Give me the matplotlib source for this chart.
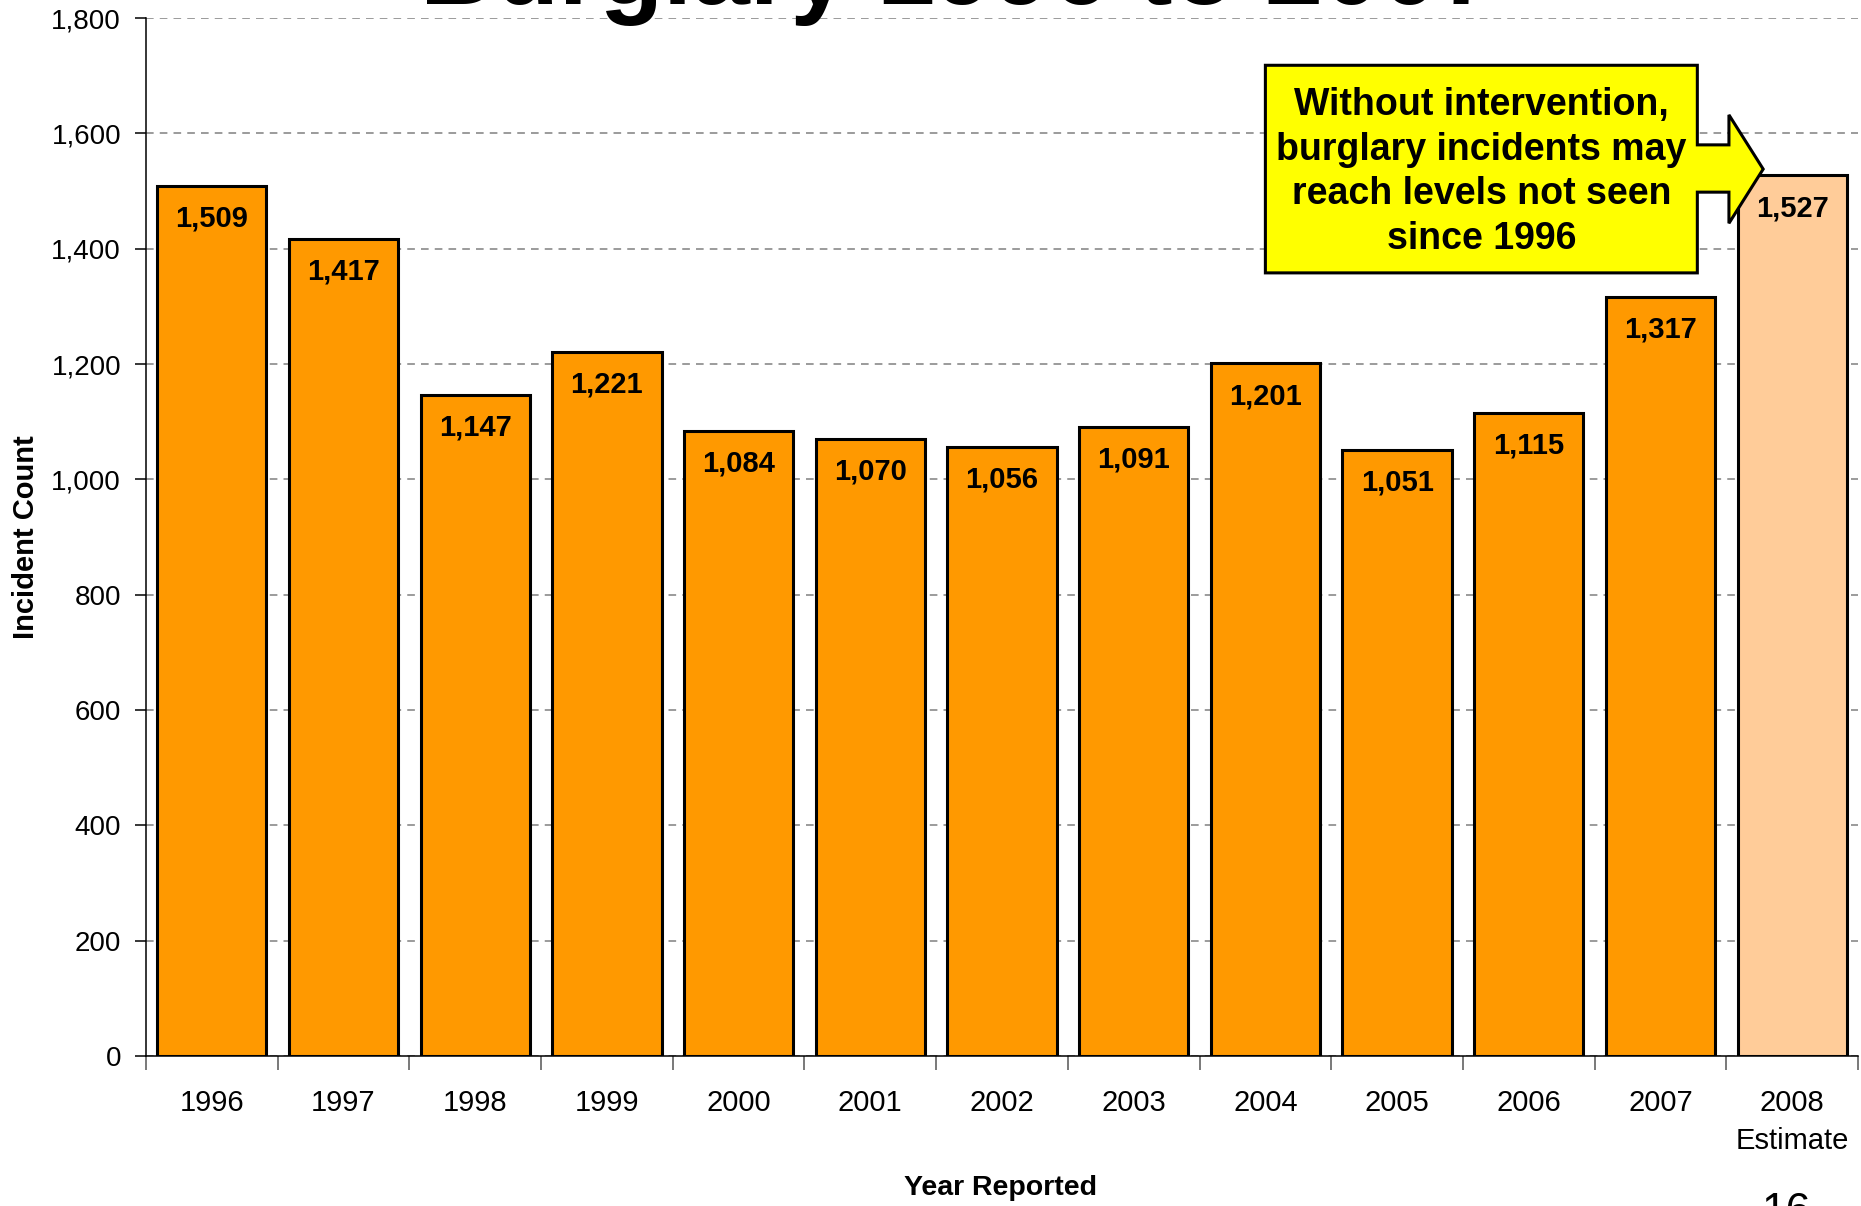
import numpy as np
import matplotlib.pyplot as plt
from matplotlib.patches import Polygon

plt.rcParams['font.family'] = ['Liberation Sans', 'DejaVu Sans']

# data
years = ['1996', '1997', '1998', '1999', '2000', '2001', '2002', '2003',
         '2004', '2005', '2006', '2007', '2008\nEstimate']
counts = [1509, 1417, 1147, 1221, 1084, 1070, 1056, 1091, 1201, 1051, 1115, 1317, 1527]
bar_colors = ['#FF9900'] * 12 + ['#FFCC99']

fig = plt.figure(figsize=(18.61, 12.06), dpi=100)
ax = fig.add_axes([146 / 1861, 1 - 1056 / 1206, (1858 - 146) / 1861, (1056 - 18) / 1206])

x = np.arange(len(years))
ax.bar(x, counts, width=0.83, color=bar_colors, edgecolor='black', linewidth=2.2, zorder=3)

for i, v in enumerate(counts):
    ax.annotate(f'{v:,}', (i, v), xytext=(0, -23.5), textcoords='offset points',
                ha='center', va='center', fontsize=21, fontweight='bold', zorder=4)

ax.set_xlim(-0.5, len(years) - 0.5)
ax.set_ylim(0, 1800)
ax.set_yticks(np.arange(0, 1801, 200))
ax.yaxis.set_major_formatter(plt.FuncFormatter(lambda v, p: f'{int(v):,}'))
ax.grid(axis='y', linestyle=(0, (5, 4)), color='#808080', linewidth=1.1, zorder=0)

# ticks between categories, labels centered
ax.set_xticks(np.arange(-0.5, len(years), 1))
ax.set_xticklabels([])
ax.set_xticks(x, minor=True)
ax.set_xticklabels(years, minor=True, fontsize=21, linespacing=1.45)
ax.tick_params(axis='x', which='minor', length=0, pad=24)
ax.tick_params(axis='x', which='major', length=10, width=1.1, color='#555555')
ax.tick_params(axis='y', length=8, width=1.1, pad=10, labelsize=20)

for s in ['top', 'right']:
    ax.spines[s].set_visible(False)
ax.spines['left'].set_linewidth(1.1)
ax.spines['bottom'].set_linewidth(1.1)

fig.text(26 / 1861, 1 - 537 / 1206, 'Incident Count', rotation=90, ha='center', va='center',
         fontsize=21, fontweight='bold')
fig.text(1001 / 1861, 1 - 1188 / 1206, 'Year Reported', ha='center', va='center',
         fontsize=20.5, fontweight='bold')
fig.text(1786 / 1861, 1 - 1212 / 1206, '16', ha='center', va='center', fontsize=32)

# title, mostly cut off at the top
fig.text(0.515, 1 - 4 / 1206, 'Burglary 1996 to 2007', ha='center', va='baseline',
         fontsize=75, fontweight='bold')

# callout box with arrow
callout = Polygon([(8.0, 1718), (11.28, 1718), (11.28, 1580), (11.52, 1580), (11.52, 1632),
                   (11.78, 1538), (11.52, 1444), (11.52, 1498), (11.28, 1498), (11.28, 1358),
                   (8.0, 1358)], closed=True, facecolor='#FFFF00', edgecolor='black',
                  linewidth=2.2, zorder=5, clip_on=False)
ax.add_patch(callout)
ax.text(9.64, 1533, 'Without intervention,\nburglary incidents may\nreach levels not seen\nsince 1996',
        ha='center', va='center', fontsize=27, fontweight='bold', linespacing=1.31, zorder=6)

fig.savefig('out.png', dpi=100)
